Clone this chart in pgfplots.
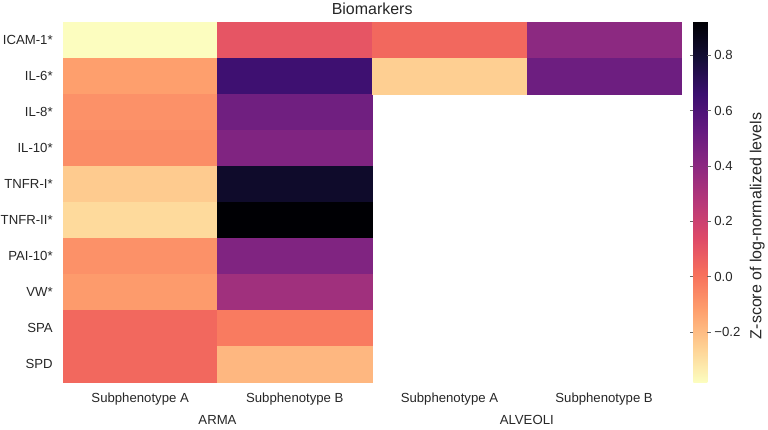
\documentclass[border=0pt]{standalone}
\usepackage{pgfplots}
\pgfplotsset{compat=1.18}
\usepackage{fontspec}
\setmainfont{Liberation Sans}
\definecolor{txt}{HTML}{262626}
\pgfplotsset{colormap={magmar}{rgb255=(252,253,191) rgb255=(254,207,146) rgb255=(254,159,109) rgb255=(247,112,92) rgb255=(222,73,104) rgb255=(183,55,121) rgb255=(140,41,129) rgb255=(100,26,128) rgb255=(59,15,112) rgb255=(20,14,54) rgb255=(0,0,4)}}
\pgfplotstableread{
x y c
0 0 -0.38
1 0 0.10
0 1 -0.12
1 1 0.65
0 2 -0.08
1 2 0.49
0 3 -0.07
1 3 0.44
0 4 -0.24
1 4 0.82
0 5 -0.28
1 5 0.92
0 6 -0.08
1 6 0.44
0 7 -0.11
1 7 0.34
0 8 0.036
1 8 -0.02
0 9 0.036
1 9 -0.185
}\arma
\pgfplotstableread{
x y c
2 0 0.036
3 0 0.40
2 1 -0.25
3 1 0.50
}\alveoli
\begin{document}
\begin{tikzpicture}[font=\fontsize{13.2}{15}\selectfont, text=txt]
\begin{axis}[
  scale only axis, width=620pt, height=361pt,
  xmin=-0.5, xmax=3.5, ymin=-0.5, ymax=9.5, y dir=reverse,
  axis line style={draw=none}, tick style={draw=none},
  xtick={0,1,2,3},
  xticklabels={Subphenotype A,Subphenotype B,Subphenotype A,Subphenotype B},
  ytick={0,...,9},
  yticklabels={ICAM-1*,IL-6*,IL-8*,IL-10*,TNFR-I*,TNFR-II*,PAI-10*,VW*,SPA,SPD},
  xticklabel style={yshift=-7pt},
  yticklabel style={inner xsep=0pt, xshift=-10pt},
  colormap name=magmar,
  point meta min=-0.38, point meta max=0.92,
  colorbar,
  colorbar style={
    at={(1.0194,1)}, anchor=north west,
    scale only axis, width=14pt, height=361pt,
    ytick={-0.2,0,0.2,0.4,0.6,0.8},
    yticklabels={−0.2,0.0,0.2,0.4,0.6,0.8},
    yticklabel pos=right,
    axis line style={draw=none},
    ytick style={draw=txt!70, line width=0.6pt},
    major tick length=3.5pt,
    tick align=outside,
    yticklabel style={font=\fontsize{13.2}{15}\selectfont, xshift=0pt},
  },
  clip=false,
]
\addplot[matrix plot*, mesh/cols=2, mesh/rows=10, point meta=explicit] table[meta=c] {\arma};
\addplot[matrix plot*, mesh/cols=2, mesh/rows=2, point meta=explicit] table[meta=c] {\alveoli};
\node[anchor=base] at (axis cs:0.5,9.5) [yshift=-43pt] {ARMA};
\node[anchor=base] at (axis cs:2.5,9.5) [yshift=-43pt] {ALVEOLI};
\node[anchor=base, font=\fontsize{16}{18}\selectfont] at (rel axis cs:0.5,1) [yshift=7pt] {Biomarkers};
\node[xshift=76pt, yshift=-24pt, rotate=90, font=\fontsize{16}{18}\selectfont] at (rel axis cs:1,0.5) {Z-score of log-normalized levels};
\path (rel axis cs:0,0) ++(-63pt,-48pt);
\path (rel axis cs:1,1) ++(86pt,20pt);
\end{axis}
\end{tikzpicture}
\end{document}
